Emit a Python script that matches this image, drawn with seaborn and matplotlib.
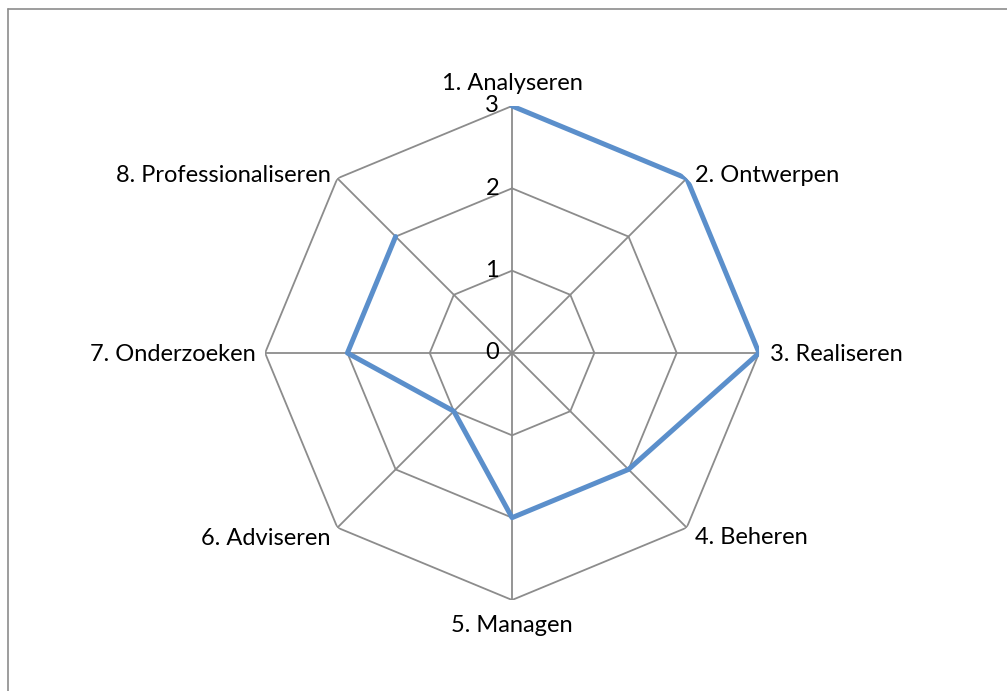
import numpy as np
import pandas as pd
import matplotlib.pyplot as plt
import seaborn as sns
from matplotlib.lines import Line2D

# Competenties en scores
categories = ["1. Analyseren", "2. Ontwerpen", "3. Realiseren", "4. Beheren",
              "5. Managen", "6. Adviseren", "7. Onderzoeken", "8. Professionaliseren"]
scores = [3, 3, 3, 2, 2, 1, 2, 2]
ring_levels = [1, 2, 3]
tick_labels = ["0", "1", "2", "3"]

# label offsets in pixels (dx, dy, ha, va)
label_pos = [
    (0, 12, "center", "bottom"),
    (8, 3, "left", "center"),
    (11, -2, "left", "center"),
    (8, -10, "left", "center"),
    (0, -15, "center", "top"),
    (-7, -11, "right", "center"),
    (-9, -2, "right", "center"),
    (-7, 3, "right", "center"),
]


def main():
    sns.set_theme(style="white")
    plt.rcParams["font.family"] = ["Lato", "DejaVu Sans"]

    fig = plt.figure(figsize=(10.07, 6.91), dpi=100)
    ax = fig.add_axes([0.2632, 0.1317, 0.4906, 0.7149], projection="polar")
    ax.set_theta_zero_location("N")
    ax.set_theta_direction(-1)
    ax.set_ylim(0, 3)
    ax.grid(False)
    ax.spines["polar"].set_visible(False)
    ax.set_xticks([])
    ax.set_yticks([])

    n = len(categories)
    angles = np.linspace(0, 2 * np.pi, n, endpoint=False)
    closed = np.append(angles, angles[0])

    grid_col = "#8c8c8c"
    # ringen (achthoeken)
    for lvl in ring_levels:
        ax.plot(closed, [lvl] * (n + 1), color=grid_col, lw=1.3, zorder=1)
    # spaken
    for a in angles:
        ax.plot([a, a], [0, 3], color=grid_col, lw=1.3, zorder=1)

    df = pd.DataFrame({"theta": closed, "score": scores + scores[:1]})
    sns.lineplot(data=df, x="theta", y="score", ax=ax, sort=False,
                 color="#5b8fcb", lw=3.6, zorder=3)
    ax.set_xlabel("")
    ax.set_ylabel("")

    # schaalwaarden
    for i, t in enumerate(tick_labels):
        ax.annotate(t, xy=(0, i), xytext=(-13, 0), textcoords="offset pixels",
                    ha="right", va="center", fontsize=17, color="black")

    # categorielabels
    for a, lab, (dx, dy, ha, va) in zip(angles, categories, label_pos):
        ax.annotate(lab, xy=(a, 3), xytext=(dx, dy), textcoords="offset pixels",
                    ha=ha, va=va, fontsize=17, color="black")

    # kader
    fig.add_artist(Line2D([8 / 1007, 1], [1 - 9 / 691, 1 - 9 / 691],
                          transform=fig.transFigure, color="#8c8c8c", lw=1.2))
    fig.add_artist(Line2D([8 / 1007, 8 / 1007], [0, 1 - 9 / 691],
                          transform=fig.transFigure, color="#8c8c8c", lw=1.2))

    fig.savefig("out.png", dpi=100, facecolor="white")
    plt.close(fig)


if __name__ == "__main__":
    main()
